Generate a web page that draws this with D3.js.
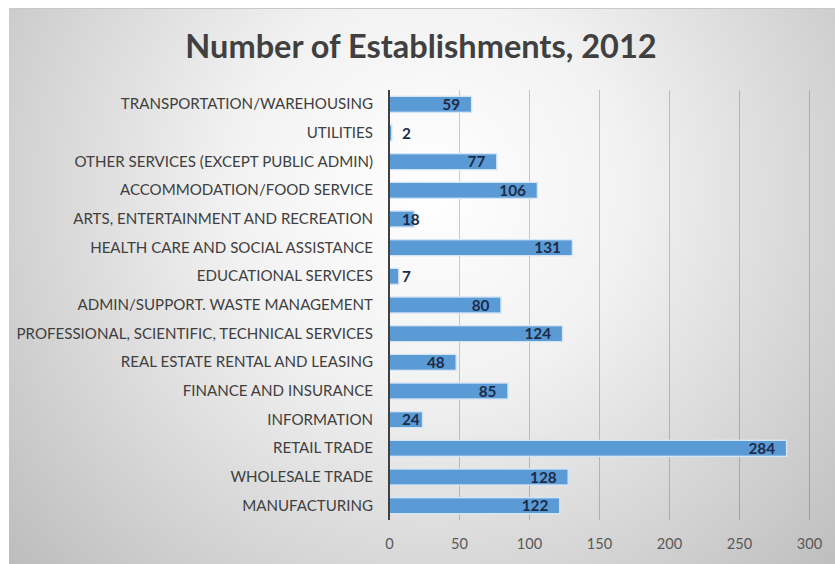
<!DOCTYPE html>
<html><head><meta charset="utf-8">
<script src="https://cdn.jsdelivr.net/npm/d3@7"></script>
<style>
  body { margin: 0; background: #ffffff; }
  text { font-family: "Lato", "Open Sans", sans-serif; }
</style>
</head><body>
<svg id="chart" width="835" height="564"></svg>
<script>
// Industries, listed top to bottom as they appear on the chart
const categories = [
  "TRANSPORTATION/WAREHOUSING",
  "UTILITIES",
  "OTHER SERVICES (EXCEPT PUBLIC ADMIN)",
  "ACCOMMODATION/FOOD SERVICE",
  "ARTS, ENTERTAINMENT AND RECREATION",
  "HEALTH CARE AND SOCIAL ASSISTANCE",
  "EDUCATIONAL SERVICES",
  "ADMIN/SUPPORT. WASTE MANAGEMENT",
  "PROFESSIONAL, SCIENTIFIC, TECHNICAL SERVICES",
  "REAL ESTATE RENTAL AND LEASING",
  "FINANCE AND INSURANCE",
  "INFORMATION",
  "RETAIL TRADE",
  "WHOLESALE TRADE",
  "MANUFACTURING"
];
// Number of establishments per industry
const establishments = [59, 2, 77, 106, 18, 131, 7, 80, 124, 48, 85, 24, 284, 128, 122];
// Value axis ticks
const xTicks = [0, 50, 100, 150, 200, 250, 300];
const chartTitle = "Number of Establishments, 2012";

const W = 835, H = 564;
const svg = d3.select("#chart");

// Chart-area background: soft radial gradient, white in the middle fading to grey
const defs = svg.append("defs");
const grad = defs.append("radialGradient")
  .attr("id", "bg").attr("gradientUnits", "userSpaceOnUse")
  .attr("cx", 430).attr("cy", 190).attr("r", 560);
grad.append("stop").attr("offset", "0%").attr("stop-color", "#ffffff");
grad.append("stop").attr("offset", "35%").attr("stop-color", "#f2f2f2");
grad.append("stop").attr("offset", "100%").attr("stop-color", "#bdbdbd");

svg.append("rect")
  .attr("x", 9).attr("y", 8).attr("width", W - 9).attr("height", H - 8)
  .attr("fill", "url(#bg)");
svg.append("line")
  .attr("x1", 9).attr("x2", W).attr("y1", 8.5).attr("y2", 8.5)
  .attr("stroke", "#c8c8c8").attr("stroke-width", 1);

const plot = { left: 389, right: 809, top: 90, bottom: 520 };

const x = d3.scaleLinear().domain([0, 300]).range([plot.left, plot.right]);
const y = d3.scaleBand().domain(categories)
  .range([plot.top, plot.bottom])
  .paddingInner(0.44).paddingOuter(0.22);

// Title
svg.append("text")
  .attr("x", 421).attr("y", 57.5)
  .attr("text-anchor", "middle")
  .attr("fill", "#404040")
  .style("font-size", "32.5px").style("font-weight", "700")
  .text(chartTitle);

// Vertical gridlines
svg.append("g")
  .selectAll("line")
  .data(xTicks.filter(d => d > 0))
  .join("line")
  .attr("x1", d => x(d) + 0.5).attr("x2", d => x(d) + 0.5)
  .attr("y1", plot.top).attr("y2", plot.bottom)
  .attr("stroke", "rgba(0,0,0,0.2)").attr("stroke-width", 1);

// Value axis labels (no axis line or tick marks)
const xAxis = d3.axisBottom(x).tickValues(xTicks).tickSize(0).tickPadding(0).tickFormat(d3.format("d"));
const gx = svg.append("g").attr("transform", `translate(0,${plot.bottom + 29})`).call(xAxis);
gx.select(".domain").remove();
gx.selectAll("text")
  .attr("dy", 0).attr("y", 0)
  .attr("fill", "#595959")
  .style("font-size", "14.6px")
  .style("font-family", "Lato, 'Open Sans', sans-serif");

// Category axis labels
const yAxis = d3.axisLeft(y).tickSize(0).tickPadding(16);
const gy = svg.append("g").attr("transform", `translate(${plot.left},0)`).call(yAxis);
gy.select(".domain").remove();
gy.selectAll("text")
  .attr("fill", "#404040")
  .style("font-size", "15.1px")
  .style("font-family", "Lato, 'Open Sans', sans-serif");

// Bars
svg.append("g")
  .selectAll("rect")
  .data(categories.map((c, i) => ({ c, v: establishments[i] })))
  .join("rect")
  .attr("x", x(0))
  .attr("y", d => y(d.c))
  .attr("width", d => x(d.v) - x(0))
  .attr("height", y.bandwidth())
  .attr("fill", "#5b9bd5")
  .attr("stroke", "#d7e6f5")
  .attr("stroke-width", 1.4);

// Category axis line
svg.append("line")
  .attr("x1", plot.left).attr("x2", plot.left)
  .attr("y1", plot.top).attr("y2", plot.bottom)
  .attr("stroke", "#404040").attr("stroke-width", 2);

// Value labels at the inside end of each bar; short bars push them just past the axis
const labels = svg.append("g")
  .selectAll("text")
  .data(categories.map((c, i) => ({ c, v: establishments[i] })))
  .join("text")
  .attr("y", d => y(d.c) + y.bandwidth() / 2)
  .attr("dy", "0.36em")
  .attr("fill", "#1c2b48")
  .style("font-size", "15.3px").style("font-weight", "700")
  .text(d => d.v);
labels.each(function (d) {
  const w = this.getComputedTextLength();
  const right = x(d.v) - 11.5;
  d3.select(this).attr("x", Math.max(right - w, x(0) + 13));
});
</script>
</body></html>
